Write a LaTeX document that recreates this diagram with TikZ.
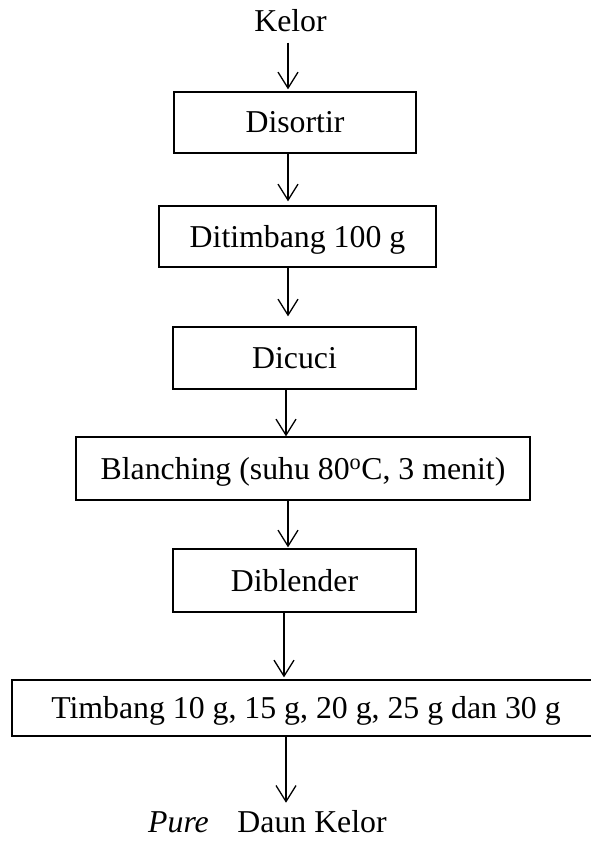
\documentclass[tikz,border=0pt]{standalone}
\usepackage{fontspec}
\setmainfont{Liberation Serif}
\usetikzlibrary{arrows.meta}
\begin{document}
\begin{tikzpicture}[x=1pt,y=-1pt,
  every node/.style={font=\fontsize{31.8}{38}\selectfont, inner sep=0pt},
  procbox/.style={draw, line width=1.3pt, text height=21pt, text depth=0pt},
  arr/.style={line width=1.3pt, -{Straight Barb[length=16pt,width=20pt,line width=1.3pt]}}]
\useasboundingbox (0,0) rectangle (590,845);
% x guides for connectors
\coordinate (x288) at (288,0);
\coordinate (x286) at (286,0);
\coordinate (x284) at (284,0);
% nodes
\node[anchor=base] (kelor) at (290.5,32) {Kelor};
\node[procbox, minimum width=242pt, minimum height=61pt] (disortir) at (295,122.5) {Disortir};
\node[procbox, minimum width=277pt, minimum height=61pt] (ditimbang) at (297.5,236.5) {Ditimbang 100 g};
\node[procbox, minimum width=243pt, minimum height=62pt] (dicuci) at (294.5,358) {Dicuci};
\node[procbox, minimum width=454pt, minimum height=63pt] (blanching) at (303,468.5) {Blanching (suhu 80\textsuperscript{o}C, 3 menit)};
\node[procbox, minimum width=243pt, minimum height=63pt] (diblender) at (294.5,580.5) {Diblender};
\node[procbox, minimum width=588pt, minimum height=56pt] (timbang) at (306,708) {Timbang 10 g, 15 g, 20 g, 25 g dan 30 g};
\node[anchor=base west] (pure) at (148,832) {\textit{Pure}\hspace{0.9em}Daun Kelor};
% connectors
\draw[arr] (kelor.south -| x288) ++(0,10) coordinate (k0) (k0) -- ([yshift=2pt]disortir.north -| x288);
\draw[arr] (disortir.south -| x288) -- ([yshift=4pt]ditimbang.north -| x288);
\draw[arr] (ditimbang.south -| x288) -- ([yshift=10pt]dicuci.north -| x288);
\draw[arr] (dicuci.south -| x286) -- (blanching.north -| x286);
\draw[arr] (blanching.south -| x288) -- ([yshift=1pt]diblender.north -| x288);
\draw[arr] (diblender.south -| x284) -- ([yshift=2pt]timbang.north -| x284);
\draw[arr] (timbang.south -| x286) -- ([yshift=7pt]pure.north -| x286);
\end{tikzpicture}
\end{document}
